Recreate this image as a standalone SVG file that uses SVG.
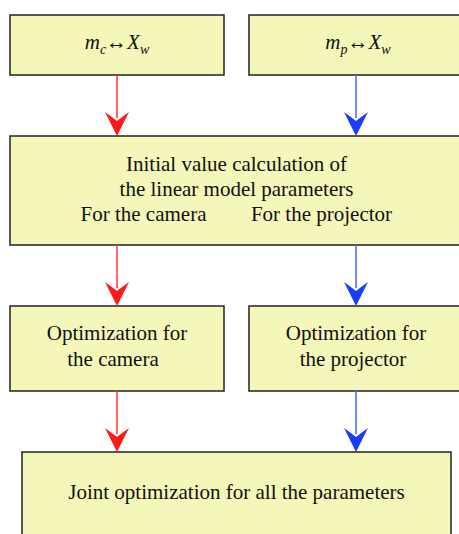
<svg xmlns="http://www.w3.org/2000/svg" width="459" height="534" viewBox="0 0 459 534">
<style>
.box{fill:#f4f7b9;stroke:#222;stroke-width:1.5}
.r{stroke:#ff4040;stroke-width:1.6;fill:none}
.b{stroke:#4a72ff;stroke-width:1.6;fill:none}
</style>
<defs>
<path id="headR" d="M-12,-24 Q-5,-19 0,-15 Q5,-19 12,-24 L0,0 Z" fill="#ff1a1a"/>
<path id="headB" d="M-12,-24 Q-5,-19 0,-15 Q5,-19 12,-24 L0,0 Z" fill="#1a3cff"/>
</defs>
<rect width="459" height="534" fill="#fff"/>
<g id="n1">
<rect class="box" x="10" y="15" width="214" height="60"/>
<text x="117" y="49" text-anchor="middle" font-family="Liberation Serif, serif" font-size="21" font-style="italic" fill="#111">m<tspan font-size="14" dy="5">c</tspan><tspan font-style="normal" dy="-5">↔</tspan>X<tspan font-size="14" dy="5">w</tspan></text>
</g>
<g id="n2">
<rect class="box" x="249" y="15" width="220" height="60"/>
<text x="358" y="49" text-anchor="middle" font-family="Liberation Serif, serif" font-size="21" font-style="italic" fill="#111">m<tspan font-size="14" dy="5">p</tspan><tspan font-style="normal" dy="-5">↔</tspan>X<tspan font-size="14" dy="5">w</tspan></text>
</g>
<g id="n3">
<rect class="box" x="10" y="136" width="459" height="109"/>
<text x="236.5" y="171" text-anchor="middle" font-family="Liberation Serif, serif" font-size="21" fill="#111">Initial value calculation of</text>
<text x="236.5" y="196" text-anchor="middle" font-family="Liberation Serif, serif" font-size="21" fill="#111">the linear model parameters</text>
<text x="143.5" y="221" text-anchor="middle" font-family="Liberation Serif, serif" font-size="21" fill="#111">For the camera</text>
<text x="321.5" y="221" text-anchor="middle" font-family="Liberation Serif, serif" font-size="21" fill="#111">For the projector</text>
</g>
<g id="n4">
<rect class="box" x="10" y="306" width="214" height="85"/>
<text x="117" y="340" text-anchor="middle" font-family="Liberation Serif, serif" font-size="21" fill="#111">Optimization for</text>
<text x="113" y="366" text-anchor="middle" font-family="Liberation Serif, serif" font-size="21" fill="#111">the camera</text>
</g>
<g id="n5">
<rect class="box" x="249" y="306" width="220" height="85"/>
<text x="356" y="340" text-anchor="middle" font-family="Liberation Serif, serif" font-size="21" fill="#111">Optimization for</text>
<text x="353" y="366" text-anchor="middle" font-family="Liberation Serif, serif" font-size="21" fill="#111">the projector</text>
</g>
<g id="n6">
<rect class="box" x="22" y="452" width="429" height="100"/>
<text x="236.5" y="499" text-anchor="middle" font-family="Liberation Serif, serif" font-size="21" fill="#111">Joint optimization for all the parameters</text>
</g>
<g id="connectors">
<line class="r" x1="117" y1="75" x2="117" y2="118"/>
<use href="#headR" x="117" y="136"/>
<line class="b" x1="356" y1="75" x2="356" y2="118"/>
<use href="#headB" x="356" y="136"/>
<line class="r" x1="117" y1="245" x2="117" y2="288"/>
<use href="#headR" x="117" y="306"/>
<line class="b" x1="356" y1="245" x2="356" y2="288"/>
<use href="#headB" x="356" y="306"/>
<line class="r" x1="117" y1="391" x2="117" y2="434"/>
<use href="#headR" x="117" y="452"/>
<line class="b" x1="356" y1="391" x2="356" y2="434"/>
<use href="#headB" x="356" y="452"/>
</g>
</svg>
